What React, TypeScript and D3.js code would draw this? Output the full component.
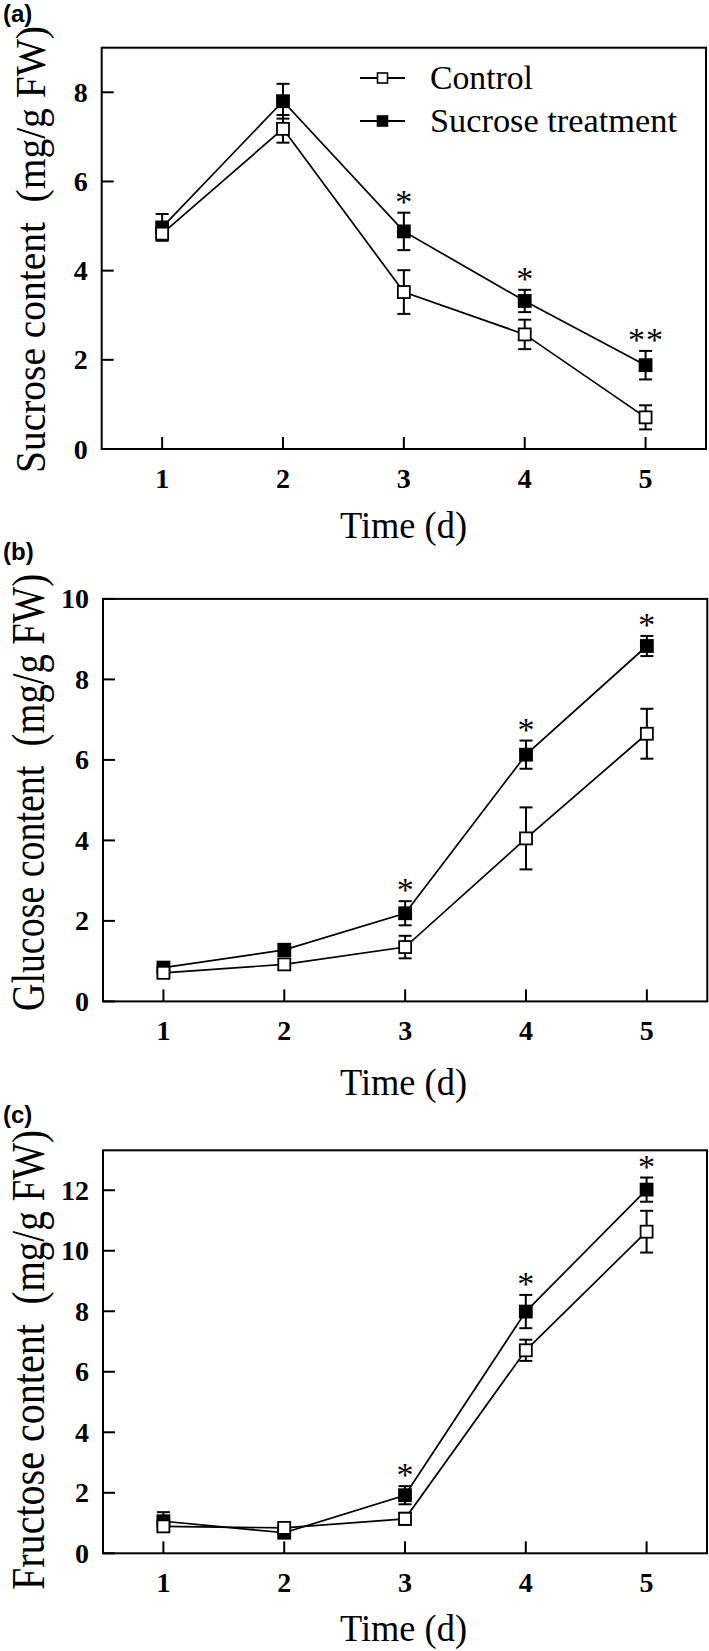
import React from "react";
import * as d3 from "d3";

// ---------- data ----------
const days = [1, 2, 3, 4, 5];
const xTickLabels = ["1", "2", "3", "4", "5"];
const seriesNames = ["Control", "Sucrose treatment"];
const unitLabel = "(mg/g FW)";

const sucroseControl = [4.83, 7.18, 3.52, 2.57, 0.71];
const sucroseControlErr = [0.08, 0.31, 0.49, 0.33, 0.27];
const sucroseTreated = [4.97, 7.8, 4.88, 3.32, 1.88];
const sucroseTreatedErr = [0.3, 0.39, 0.42, 0.25, 0.32];
const sucroseSig = ["", "", "*", "*", "**"];
const sucroseTicks = [0, 2, 4, 6, 8];

const glucoseControl = [0.71, 0.92, 1.35, 4.05, 6.65];
const glucoseControlErr = [0.08, 0.12, 0.28, 0.77, 0.62];
const glucoseTreated = [0.84, 1.28, 2.19, 6.13, 8.83];
const glucoseTreatedErr = [0.1, 0.15, 0.3, 0.35, 0.25];
const glucoseSig = ["", "", "*", "*", "*"];
const glucoseTicks = [0, 2, 4, 6, 8, 10];

const fructoseControl = [0.89, 0.84, 1.14, 6.71, 10.63];
const fructoseControlErr = [0.1, 0.12, 0.2, 0.35, 0.69];
const fructoseTreated = [1.06, 0.68, 1.92, 7.99, 12.02];
const fructoseTreatedErr = [0.3, 0.1, 0.3, 0.55, 0.4];
const fructoseSig = ["", "", "*", "*", "*"];
const fructoseTicks = [0, 2, 4, 6, 8, 10, 12];

// ---------- layout ----------
const SERIF = "'Liberation Serif', 'Times New Roman', serif";
const SANS = "'Liberation Sans', Arial, sans-serif";

const panels = [
  {
    tag: "(a)", tagY: 22,
    title: "Sucrose content", titleSize: 42, titleLen: 447, titleCY: 249.5, titleX: 45,
    left: 101.7, right: 706, top: 47.7, bottom: 449, yMax: 9,
    ticks: sucroseTicks, timeY: 538.3,
    control: sucroseControl, controlErr: sucroseControlErr,
    treated: sucroseTreated, treatedErr: sucroseTreatedErr, sig: sucroseSig,
    legend: true,
  },
  {
    tag: "(b)", tagY: 560,
    title: "Glucose content", titleSize: 47, titleLen: 437, titleCY: 792.5, titleX: 44,
    left: 103, right: 707.3, top: 598.9, bottom: 1001.4, yMax: 10,
    ticks: glucoseTicks, timeY: 1095,
    control: glucoseControl, controlErr: glucoseControlErr,
    treated: glucoseTreated, treatedErr: glucoseTreatedErr, sig: glucoseSig,
    legend: false,
  },
  {
    tag: "(c)", tagY: 1123,
    title: "Fructose content", titleSize: 47, titleLen: 460, titleCY: 1360, titleX: 44,
    left: 103, right: 707, top: 1150.3, bottom: 1553.3, yMax: 13.32,
    ticks: fructoseTicks, timeY: 1641,
    control: fructoseControl, controlErr: fructoseControlErr,
    treated: fructoseTreated, treatedErr: fructoseTreatedErr, sig: fructoseSig,
    legend: false,
  },
];

const MARK = 12;
const CAP = 6.5;

function Series({ vals, errs, x, y, filled }) {
  const line = d3
    .line<number>()
    .x((_, i) => x(days[i]))
    .y((d) => y(d));
  return (
    <g>
      <path d={line(vals) || ""} fill="none" stroke="#000" strokeWidth={1.7} />
      {vals.map((v, i) => {
        const cx = x(days[i]);
        const y1 = y(v + errs[i]);
        const y2 = y(v - errs[i]);
        return (
          <g key={"e" + i} stroke="#000" strokeWidth={2}>
            <line x1={cx} x2={cx} y1={y1} y2={y2} />
            <line x1={cx - CAP} x2={cx + CAP} y1={y1} y2={y1} />
            <line x1={cx - CAP} x2={cx + CAP} y1={y2} y2={y2} />
          </g>
        );
      })}
      {vals.map((v, i) => (
        <rect
          key={"m" + i}
          x={x(days[i]) - MARK / 2}
          y={y(v) - MARK / 2}
          width={MARK}
          height={MARK}
          fill={filled ? "#000" : "#fff"}
          stroke="#000"
          strokeWidth={1.8}
        />
      ))}
    </g>
  );
}

function YTitle({ p }) {
  // Split the rotated title into its two words-groups, each fitted to its share of the length
  const wTitle = p.title.length >= 16 ? 6.81 : 6.36; // approx em widths (Times metrics)
  const wGap = 0.5;
  const wUnit = 4.472;
  const total = wTitle + wGap + wUnit;
  const k = p.titleLen / total;
  const bottomY = p.titleCY + p.titleLen / 2;
  const lenTitle = wTitle * k;
  const lenUnit = wUnit * k;
  const cTitle = bottomY - lenTitle / 2;
  const cUnit = bottomY - (wTitle + wGap) * k - lenUnit / 2;
  const common = {
    textAnchor: "middle",
    fontFamily: SERIF,
    fontSize: p.titleSize,
    lengthAdjust: "spacingAndGlyphs",
  };
  return (
    <g>
      <text {...common} transform={`translate(${p.titleX},${cTitle}) rotate(-90)`} textLength={lenTitle}>
        {p.title}
      </text>
      <text {...common} transform={`translate(${p.titleX},${cUnit}) rotate(-90)`} textLength={lenUnit}>
        {unitLabel}
      </text>
    </g>
  );
}

function Panel({ p }) {
  const x = d3.scaleLinear().domain([0.5, 5.5]).range([p.left, p.right]);
  const y = d3.scaleLinear().domain([0, p.yMax]).range([p.bottom, p.top]);
  return (
    <g>
      <text x={3} y={p.tagY} fontFamily={SANS} fontWeight="bold" fontSize={24}>
        {p.tag}
      </text>
      <YTitle p={p} />
      {p.ticks.map((t) => (
        <g key={"yt" + t}>
          <line x1={p.left} x2={p.left + 12} y1={y(t)} y2={y(t)} stroke="#000" strokeWidth={2} />
          <text
            x={p.left - 14}
            y={y(t) + 9.5}
            textAnchor="end"
            fontFamily={SERIF}
            fontWeight="bold"
            fontSize={28}
          >
            {t}
          </text>
        </g>
      ))}
      {days.map((d, i) => (
        <g key={"xt" + d}>
          <line x1={x(d)} x2={x(d)} y1={p.bottom} y2={p.bottom - 12} stroke="#000" strokeWidth={2} />
          <text
            x={x(d)}
            y={p.bottom + 39}
            textAnchor="middle"
            fontFamily={SERIF}
            fontWeight="bold"
            fontSize={28}
          >
            {xTickLabels[i]}
          </text>
        </g>
      ))}
      <text
        x={403.5}
        y={p.timeY}
        textAnchor="middle"
        fontFamily={SERIF}
        fontSize={38}
        textLength={127}
        lengthAdjust="spacingAndGlyphs"
      >
        Time (d)
      </text>
      <Series vals={p.treated} errs={p.treatedErr} x={x} y={y} filled={true} />
      <Series vals={p.control} errs={p.controlErr} x={x} y={y} filled={false} />
      {p.sig.map((s, i) => {
        if (!s) return null;
        const capY = y(p.treated[i] + p.treatedErr[i]);
        const cy = capY - 16;
        const n = s.length;
        return (
          <g key={"s" + i}>
            {Array.from({ length: n }).map((_, k) => (
              <text
                key={k}
                x={x(days[i]) + (k - (n - 1) / 2) * 18}
                y={cy + 16}
                textAnchor="middle"
                fontFamily={SERIF}
                fontSize={34}
              >
                *
              </text>
            ))}
          </g>
        );
      })}
      <rect
        x={p.left}
        y={p.top}
        width={p.right - p.left}
        height={p.bottom - p.top}
        fill="none"
        stroke="#000"
        strokeWidth={2}
      />
      {p.legend && (
        <g>
          {seriesNames.map((name, k) => {
            const ly = 78 + k * 43;
            return (
              <g key={name}>
                <line x1={360} x2={405} y1={ly} y2={ly} stroke="#000" strokeWidth={1.8} />
                <rect
                  x={382.5 - 5}
                  y={ly - 5}
                  width={10}
                  height={10}
                  fill={k === 0 ? "#fff" : "#000"}
                  stroke="#000"
                  strokeWidth={1.6}
                />
                <text
                  x={430}
                  y={ly + 10.5}
                  fontFamily={SERIF}
                  fontSize={34}
                  textLength={k === 0 ? 103 : 247}
                  lengthAdjust="spacingAndGlyphs"
                >
                  {name}
                </text>
              </g>
            );
          })}
        </g>
      )}
    </g>
  );
}

export default function App() {
  return (
    <svg
      width={709}
      height={1651}
      viewBox="0 0 709 1651"
      style={{ position: "absolute", left: 0, top: 0, background: "#fff" }}
    >
      <rect x={0} y={0} width={709} height={1651} fill="#fff" />
      {panels.map((p) => (
        <Panel key={p.tag} p={p} />
      ))}
    </svg>
  );
}
